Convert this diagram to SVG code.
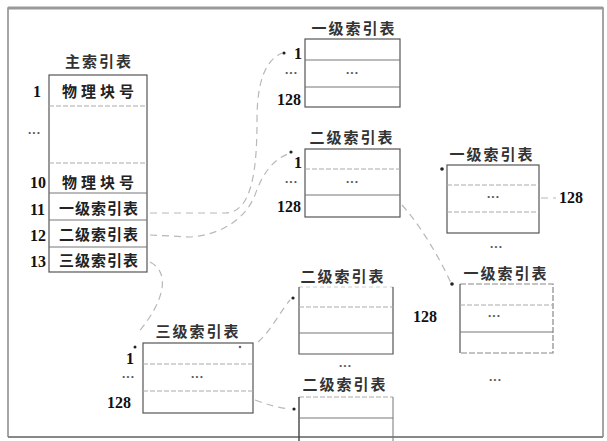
<svg xmlns="http://www.w3.org/2000/svg" width="607" height="441" viewBox="0 0 607 441">
<style>
.cn{font-family:"Noto Sans CJK SC","Noto Sans",sans-serif;font-weight:bold;font-size:15px;fill:#222;text-anchor:middle}
.tt{font-family:"Noto Sans CJK SC","Noto Sans",sans-serif;font-weight:bold;font-size:15px;fill:#333;text-anchor:middle;letter-spacing:2px}
.num{font-family:"Liberation Serif",serif;font-weight:bold;font-size:16px;fill:#111}
.dots{font-family:"Liberation Serif",serif;font-weight:bold;font-size:13px;fill:#555;text-anchor:middle}
.box{fill:none;stroke:#555;stroke-width:1.2}
.row{stroke:#777;stroke-width:1}
.rowl{stroke:#aaa;stroke-width:1;stroke-dasharray:5 2}
.dot{fill:#222}
.conn{fill:none;stroke:#b8b8b8;stroke-width:1.2;stroke-dasharray:7 5}
</style>
<rect x="0" y="0" width="607" height="441" fill="#fff"/>
<g id="frame">
<path d="M8,437 L8,8 L603,8 L603,437" fill="none" stroke="#888" stroke-width="1.5"/>
<line x1="8" y1="8" x2="603" y2="8" stroke="#999" stroke-width="3"/>
<line x1="8" y1="437" x2="603" y2="437" stroke="#888" stroke-width="2"/>
</g>
<g id="connectors">
<path class="conn" d="M150,213 L225,213 C252,213 257,170 257,120 C257,80 266,60 282,53"/>
<path class="conn" d="M150,235 L190,237 C220,235 245,220 255,195 C262,175 272,160 288,154"/>
<path class="conn" d="M150,262 C170,272 166,300 137,334"/>
<path class="conn" d="M258,342 C270,332 280,312 290,300"/>
<path class="conn" d="M255,400 C268,405 280,408 290,409"/>
<path class="conn" d="M402,205 C420,225 438,255 451,283"/>
<path class="conn" d="M541,198 L556,198"/>
</g>
<g id="main-table">
<text class="tt" x="99" y="67">主索引表</text>
<rect class="box" x="49" y="75" width="98" height="197"/>
<line class="rowl" x1="49" y1="106" x2="147" y2="106"/>
<line class="rowl" x1="49" y1="163" x2="147" y2="163"/>
<line class="row" x1="49" y1="193" x2="147" y2="193"/>
<line class="row" x1="49" y1="220" x2="147" y2="220"/>
<line class="row" x1="49" y1="247" x2="147" y2="247"/>
<text class="cn" x="100" y="97" letter-spacing="4">物理块号</text>
<text class="cn" x="100" y="188" letter-spacing="4">物理块号</text>
<text class="cn" x="99" y="214" letter-spacing="1">一级索引表</text>
<text class="cn" x="99" y="240" letter-spacing="1">二级索引表</text>
<text class="cn" x="99" y="266" letter-spacing="1">三级索引表</text>
<text class="num" x="33" y="97">1</text>
<text class="dots" x="34" y="137">···</text>
<text class="num" x="30" y="188">10</text>
<text class="num" x="30" y="215">11</text>
<text class="num" x="30" y="241">12</text>
<text class="num" x="30" y="267">13</text>
</g>
<g id="table-a">
<text class="tt" x="354" y="34">一级索引表</text>
<rect class="box" x="305" y="39" width="95" height="68"/>
<line class="row" x1="305" y1="60" x2="400" y2="60"/>
<line class="row" x1="305" y1="87" x2="400" y2="87"/>
<text class="dots" x="352" y="77">···</text>
<circle class="dot" cx="284" cy="53" r="1.6"/>
<text class="num" x="294" y="59">1</text>
<text class="dots" x="291" y="77">···</text>
<text class="num" x="277" y="105">128</text>
</g>
<g id="table-b">
<text class="tt" x="352" y="143">二级索引表</text>
<rect class="box" x="305" y="149" width="95" height="68"/>
<line class="rowl" x1="305" y1="169" x2="400" y2="169"/>
<line class="row" x1="305" y1="195" x2="400" y2="195"/>
<text class="dots" x="352" y="186">···</text>
<circle class="dot" cx="291" cy="152" r="1.6"/>
<text class="num" x="294" y="168">1</text>
<text class="dots" x="291" y="186">···</text>
<text class="num" x="277" y="212">128</text>
</g>
<g id="table-c">
<text class="tt" x="492" y="160">一级索引表</text>
<rect class="box" x="447" y="165" width="92" height="68"/>
<line class="rowl" x1="447" y1="185" x2="539" y2="185"/>
<line class="rowl" x1="447" y1="212" x2="539" y2="212"/>
<text class="dots" x="493" y="201">···</text>
<circle class="dot" cx="442" cy="169" r="1.8"/>
<text class="num" x="559" y="203">128</text>
<text class="dots" x="496" y="251">···</text>
</g>
<g id="table-d">
<text class="tt" x="506" y="279">一级索引表</text>
<path d="M460,284 L553,284 L553,353 L460,353" fill="none" stroke="#888" stroke-width="1.2" stroke-dasharray="6 2"/>
<line x1="460" y1="284" x2="460" y2="353" stroke="#555" stroke-width="1.2"/>
<line class="rowl" x1="460" y1="305" x2="553" y2="305"/>
<line class="row" x1="460" y1="332" x2="553" y2="332" stroke="#444" stroke-width="1.4"/>
<text class="dots" x="494" y="320">···</text>
<circle class="dot" cx="452" cy="284" r="1.8"/>
<text class="num" x="413" y="322">128</text>
<text class="dots" x="495" y="384">···</text>
</g>
<g id="table-e">
<text class="tt" x="198" y="337">三级索引表</text>
<rect class="box" x="143" y="343" width="110" height="70"/>
<line class="rowl" x1="143" y1="364" x2="253" y2="364"/>
<line class="rowl" x1="143" y1="391" x2="253" y2="391"/>
<text class="dots" x="197" y="381">···</text>
<circle class="dot" cx="135" cy="347" r="1.5"/>
<circle cx="240" cy="347" r="1.3" fill="#666"/>
<text class="num" x="126" y="364">1</text>
<text class="dots" x="128" y="381">···</text>
<text class="num" x="107" y="408">128</text>
</g>
<g id="table-f">
<text class="tt" x="343" y="282">二级索引表</text>
<line x1="299" y1="287" x2="393" y2="287" stroke="#ccc" stroke-width="1" stroke-dasharray="4 3"/>
<path d="M299,287 L299,354 L393,354 L393,287" fill="none" stroke="#555" stroke-width="1.2"/>
<line class="rowl" x1="299" y1="307" x2="393" y2="307"/>
<line class="row" x1="299" y1="333" x2="393" y2="333" stroke="#444" stroke-width="1.5"/>
<circle class="dot" cx="293" cy="298" r="1.6"/>
<text class="dots" x="345" y="370">···</text>
</g>
<g id="table-g">
<text class="tt" x="345" y="390">二级索引表</text>
<line x1="299" y1="397" x2="393" y2="397" stroke="#aaa" stroke-width="1" stroke-dasharray="5 2"/>
<line x1="299" y1="397" x2="299" y2="441" stroke="#444" stroke-width="1.4"/>
<line x1="393" y1="397" x2="393" y2="441" stroke="#777" stroke-width="1"/>
<line class="row" x1="299" y1="418" x2="393" y2="418"/>
<circle class="dot" cx="294" cy="409" r="1.6"/>
</g>
</svg>
